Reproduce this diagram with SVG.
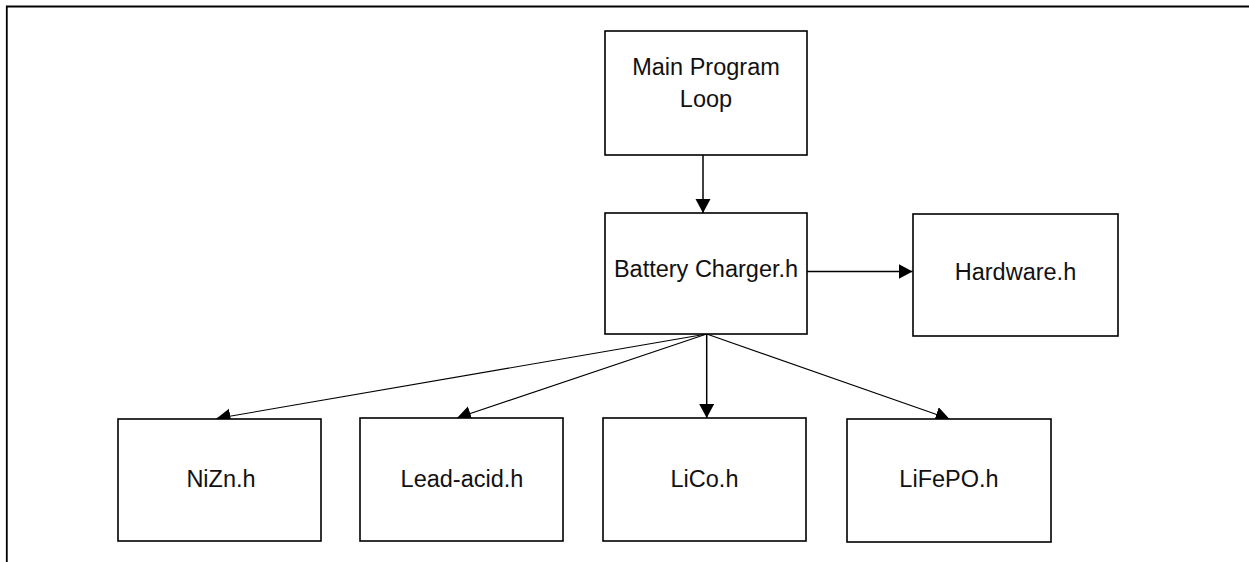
<svg xmlns="http://www.w3.org/2000/svg" width="1249" height="562" viewBox="0 0 1249 562">
  <style>
    .box { fill: #ffffff; stroke: #000000; stroke-width: 1.6; }
    .lbl { font-family: "Liberation Sans", Arial, sans-serif; font-size: 23.5px; fill: #111111; text-anchor: middle; }
    .edge { fill: none; stroke: #000000; stroke-width: 1.5; }
    .thin { stroke-width: 1.1; }
  </style>
  <defs>
    <marker id="arrow" markerUnits="userSpaceOnUse" markerWidth="16" markerHeight="16" refX="14" refY="7.5" orient="auto">
      <path d="M0,0 L14,7.5 L0,15 Z" fill="#000000"/>
    </marker>
  </defs>

  <rect width="1249" height="562" fill="#ffffff"/>

  <!-- page frame -->
  <path d="M6.8,562 V6.5 H1249" fill="none" stroke="#000000" stroke-width="1.8"/>

  <g id="connectors">
    <line class="edge" x1="703" y1="155" x2="703" y2="213" marker-end="url(#arrow)"/>
    <line class="edge" x1="807" y1="271.5" x2="912.5" y2="271.5" marker-end="url(#arrow)"/>
    <line class="edge thin" x1="706.7" y1="334" x2="216.5" y2="418.5" marker-end="url(#arrow)"/>
    <line class="edge thin" x1="706.7" y1="334" x2="457" y2="418" marker-end="url(#arrow)"/>
    <line class="edge" x1="706.7" y1="334" x2="706.7" y2="418" marker-end="url(#arrow)"/>
    <line class="edge thin" x1="706.7" y1="334" x2="949.5" y2="419" marker-end="url(#arrow)"/>
  </g>

  <g id="main-loop">
    <rect class="box" x="605" y="31" width="202" height="124"/>
    <text class="lbl" x="706" y="75">Main Program</text>
    <text class="lbl" x="706" y="106.7">Loop</text>
  </g>

  <g id="battery-charger">
    <rect class="box" x="605" y="213" width="202" height="121"/>
    <text class="lbl" x="706" y="276.7">Battery Charger.h</text>
  </g>

  <g id="hardware">
    <rect class="box" x="913" y="214" width="205" height="122"/>
    <text class="lbl" x="1015.5" y="280">Hardware.h</text>
  </g>

  <g id="nizn">
    <rect class="box" x="118" y="419" width="203" height="122"/>
    <text class="lbl" x="221" y="486.7">NiZn.h</text>
  </g>

  <g id="lead-acid">
    <rect class="box" x="360" y="418" width="203" height="123"/>
    <text class="lbl" x="462" y="486.7">Lead-acid.h</text>
  </g>

  <g id="lico">
    <rect class="box" x="603" y="418" width="203" height="123"/>
    <text class="lbl" x="704.5" y="486.7">LiCo.h</text>
  </g>

  <g id="lifepo">
    <rect class="box" x="847" y="419" width="204" height="123"/>
    <text class="lbl" x="949" y="486.7">LiFePO.h</text>
  </g>
</svg>
